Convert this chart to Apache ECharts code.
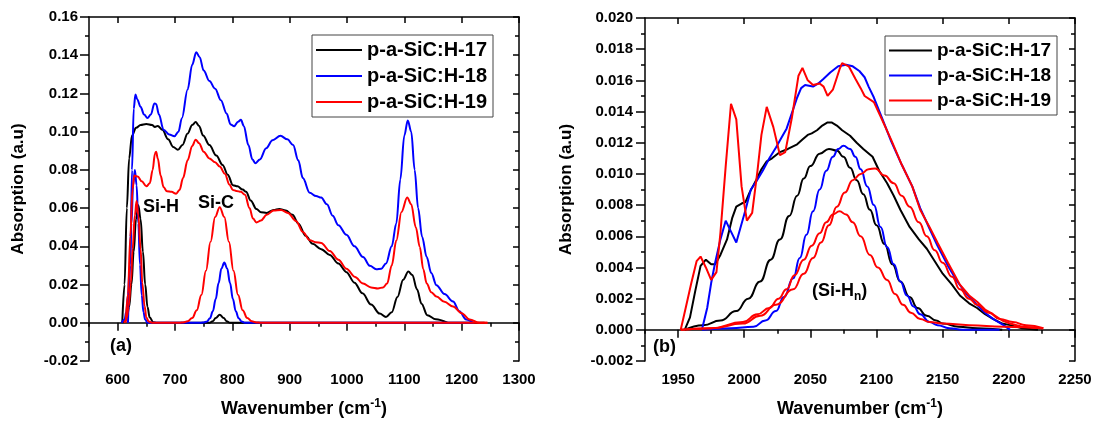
<!DOCTYPE html>
<html>
<head>
<meta charset="utf-8">
<script src="https://cdn.jsdelivr.net/npm/echarts@6/dist/echarts.min.js"></script>
<style>
  html, body { margin: 0; padding: 0; background: #fff; }
  #chart { width: 1101px; height: 425px; }
</style>
</head>
<body>
<div id="chart"></div>
<script>
// ---------- Panel (a): 550–1300 cm-1 ----------
const xMajorA = [600, 700, 800, 900, 1000, 1100, 1200, 1300];
const xMinorA = [550, 650, 750, 850, 950, 1050, 1150, 1250];

const specA17 = [[608,0],[612,0.02],[616,0.06],[620,0.086],[625,0.098],[632,0.102],[640,0.1035],[650,0.104],[660,0.1035],[665,0.1025],[670,0.103],[678,0.101],[688,0.096],[697,0.092],[705,0.0905],[713,0.093],[722,0.099],[730,0.1035],[736,0.105],[742,0.103],[749,0.098],[760,0.093],[772,0.0875],[783,0.0826],[792,0.0775],[801,0.072],[809,0.0714],[818,0.0697],[824,0.0685],[832,0.064],[842,0.0595],[850,0.0578],[860,0.0575],[872,0.059],[882,0.0596],[893,0.0588],[905,0.0565],[915,0.052],[928,0.0455],[940,0.0413],[955,0.0385],[970,0.0355],[985,0.031],[999,0.0265],[1013,0.021],[1027,0.0154],[1042,0.0095],[1057,0.0048],[1068,0.003],[1078,0.0055],[1088,0.0135],[1098,0.0225],[1107,0.0268],[1114,0.025],[1122,0.0175],[1130,0.01],[1140,0.004],[1155,0.0018],[1175,0]];

const specA18 = [[618,0],[622,0.03],[625,0.08],[628,0.112],[631,0.1195],[634,0.117],[640,0.113],[646,0.109],[652,0.1072],[658,0.109],[664,0.1148],[667,0.1145],[672,0.109],[680,0.101],[690,0.0985],[699,0.0976],[706,0.1],[712,0.107],[722,0.122],[730,0.135],[737,0.1416],[743,0.139],[750,0.132],[760,0.1265],[770,0.1225],[780,0.1165],[790,0.1095],[797,0.1038],[803,0.1028],[810,0.1052],[815,0.1062],[820,0.103],[828,0.093],[835,0.0855],[840,0.0835],[848,0.0855],[859,0.0913],[870,0.0955],[884,0.0978],[896,0.096],[906,0.093],[915,0.085],[923,0.0757],[935,0.068],[946,0.0663],[955,0.0655],[965,0.062],[975,0.056],[985,0.051],[999,0.046],[1013,0.04],[1028,0.0344],[1040,0.0298],[1051,0.028],[1060,0.0283],[1068,0.031],[1078,0.04],[1086,0.052],[1093,0.075],[1100,0.098],[1106,0.1059],[1112,0.1],[1118,0.08],[1124,0.06],[1131,0.045],[1139,0.0344],[1147,0.026],[1156,0.0197],[1170,0.015],[1185,0.0111],[1196,0.006],[1208,0.0017],[1220,0]];

const specA19 = [[614,0],[618,0.015],[622,0.045],[626,0.07],[629,0.077],[635,0.0765],[642,0.074],[650,0.0714],[656,0.073],[661,0.08],[665,0.0885],[667,0.0895],[670,0.086],[675,0.077],[680,0.071],[686,0.0688],[694,0.0685],[702,0.0675],[708,0.0695],[714,0.0757],[722,0.085],[730,0.0925],[736,0.0958],[742,0.094],[750,0.0895],[760,0.086],[770,0.084],[778,0.0818],[787,0.078],[795,0.0723],[801,0.0695],[807,0.069],[815,0.0685],[822,0.067],[830,0.06],[836,0.0545],[842,0.0525],[850,0.0535],[860,0.0565],[872,0.0588],[885,0.059],[897,0.0575],[911,0.0533],[923,0.0475],[935,0.0432],[945,0.0422],[955,0.0418],[970,0.0375],[985,0.033],[999,0.0283],[1014,0.024],[1028,0.0205],[1042,0.0185],[1054,0.018],[1063,0.0185],[1070,0.0205],[1078,0.03],[1086,0.043],[1095,0.058],[1105,0.0655],[1112,0.062],[1120,0.05],[1127,0.0396],[1133,0.028],[1139,0.0206],[1147,0.016],[1156,0.0137],[1170,0.011],[1185,0.0085],[1200,0.005],[1214,0.0017],[1231,0],[1245,0]];

// fitted Si-H and Si-C bands
const fitA17 = [[608,0],[612,0.0007],[616,0.0027],[620,0.0083],[624,0.02],[628,0.0373],[632,0.0542],[636,0.0615],[640,0.0542],[644,0.0373],[648,0.02],[652,0.0083],[656,0.0027],[662,0.0003],[668,0],[760,0],[766,0.0008],[771,0.0025],[778,0.0042],[785,0.0025],[790,0.0008],[796,0],[1240,0]];
const fitA18 = [[607,0],[612,0.0017],[615,0.0056],[618,0.0144],[621,0.0304],[624,0.052],[627,0.072],[630,0.08],[633,0.072],[636,0.052],[639,0.0304],[642,0.0144],[645,0.0056],[648,0.0017],[652,0],[745,0],[750,0.0002],[756,0.0007],[761,0.0024],[766,0.006],[771,0.0124],[776,0.0208],[781,0.0284],[786,0.0315],[791,0.0284],[796,0.0208],[801,0.0124],[806,0.006],[811,0.0024],[816,0.0007],[822,0],[1222,0]];
const fitA19 = [[611,0],[614,0.0012],[616,0.0028],[619,0.0086],[623,0.0207],[626,0.0387],[630,0.0562],[633,0.0637],[636,0.0562],[640,0.0387],[643,0.0207],[647,0.0086],[650,0.0028],[654,0.0007],[660,0],[708,0],[714,0.0002],[722,0.0008],[730,0.0025],[738,0.0066],[746,0.0146],[754,0.0272],[762,0.0424],[770,0.0554],[778,0.0605],[786,0.0554],[794,0.0424],[802,0.0272],[810,0.0146],[818,0.0066],[826,0.0025],[834,0.0008],[842,0.0002],[850,0],[1245,0]];

// ---------- Panel (b): 1925–2250 cm-1 ----------
const xMajorB = [1950, 2000, 2050, 2100, 2150, 2200, 2250];
const xMinorB = [1925, 1975, 2025, 2075, 2125, 2175, 2225];

const specB17 = [[1955,0],[1959,0.0008],[1963,0.0025],[1967,0.0041],[1971,0.0045],[1975,0.0042],[1978,0.0042],[1982,0.0048],[1987,0.0058],[1991,0.0072],[1994,0.0079],[1998,0.0081],[2001,0.0082],[2004,0.0088],[2009,0.0096],[2013,0.0103],[2017,0.0108],[2021,0.011],[2027,0.0114],[2033,0.0116],[2040,0.0119],[2044,0.0122],[2048,0.0125],[2051,0.0126],[2055,0.0128],[2059,0.0131],[2063,0.0133],[2066,0.0133],[2070,0.0131],[2074,0.0128],[2080,0.01245],[2085,0.012],[2090,0.0116],[2097,0.0111],[2102,0.0102],[2108,0.0094],[2113,0.0086],[2118,0.0077],[2125,0.0066],[2132,0.0058],[2138,0.0052],[2144,0.0044],[2150,0.0036],[2157,0.0029],[2163,0.0022],[2170,0.0017],[2176,0.0014],[2182,0.001],[2188,0.0007],[2195,0.0004],[2201,0.0003],[2210,0.0001],[2222,0]];

const specB18 = [[1968,0],[1972,0.0014],[1975,0.003],[1978,0.0043],[1982,0.0058],[1986,0.007],[1990,0.0063],[1994,0.0056],[1998,0.0068],[2001,0.0077],[2005,0.009],[2009,0.0095],[2014,0.0102],[2019,0.011],[2024,0.0117],[2028,0.0123],[2032,0.0129],[2036,0.0139],[2040,0.0149],[2043,0.0155],[2046,0.0157],[2052,0.0156],[2056,0.0158],[2060,0.0161],[2065,0.0165],[2071,0.0169],[2077,0.017],[2082,0.0169],[2087,0.0166],[2091,0.0162],[2094,0.0156],[2098,0.0149],[2105,0.0134],[2111,0.0121],[2119,0.0106],[2127,0.0092],[2133,0.0078],[2140,0.0065],[2146,0.0054],[2154,0.0041],[2161,0.0031],[2168,0.0023],[2176,0.0016],[2182,0.0011],[2188,0.0007],[2196,0.0003],[2201,0]];

const specB19 = [[1952,0],[1956,0.0015],[1960,0.003],[1964,0.0044],[1967,0.0047],[1971,0.004],[1975,0.0032],[1979,0.0037],[1982,0.0062],[1986,0.0105],[1990,0.0145],[1994,0.0135],[1998,0.0092],[2002,0.007],[2006,0.0075],[2010,0.0102],[2013,0.0125],[2017,0.0143],[2022,0.013],[2027,0.0112],[2031,0.0114],[2036,0.0136],[2041,0.0163],[2044,0.0168],[2048,0.016],[2052,0.0157],[2057,0.0158],[2060,0.0156],[2063,0.015],[2067,0.0154],[2072,0.0167],[2074,0.0171],[2079,0.0169],[2084,0.0161],[2088,0.0155],[2091,0.015],[2098,0.0146],[2103,0.0137],[2111,0.0122],[2119,0.0106],[2127,0.0092],[2133,0.0077],[2140,0.0066],[2146,0.0056],[2154,0.0043],[2163,0.0029],[2170,0.0022],[2176,0.0018],[2182,0.0013],[2188,0.001],[2195,0.0006],[2201,0.0004],[2210,0.0002],[2226,0.0001]];

// fitted Si-Hn bands
const fitB17 = [[1955,0],[1969,0.0003],[1982,0.0006],[1994,0.0012],[2003,0.002],[2012,0.0031],[2020,0.0045],[2027,0.0058],[2034,0.0073],[2040,0.0086],[2045,0.0097],[2050,0.0105],[2057,0.0113],[2064,0.0116],[2070,0.0115],[2075,0.0111],[2080,0.0104],[2085,0.0096],[2090,0.0087],[2095,0.0077],[2100,0.0067],[2106,0.0055],[2112,0.0042],[2118,0.0031],[2125,0.0021],[2131,0.0014],[2138,0.0009],[2145,0.0006],[2150,0.0004],[2162,0.0002],[2176,0.0001],[2195,0]];
const fitB18 = [[1968,0],[1990,0.0001],[2007,0.0002],[2016,0.0006],[2024,0.0012],[2030,0.0021],[2037,0.0033],[2042,0.0046],[2047,0.0061],[2052,0.0076],[2057,0.009],[2062,0.0102],[2067,0.0111],[2071,0.0116],[2075,0.0118],[2080,0.0116],[2084,0.0111],[2088,0.0103],[2093,0.0092],[2098,0.008],[2103,0.0066],[2108,0.0053],[2113,0.0042],[2118,0.0031],[2123,0.0022],[2128,0.0015],[2133,0.001],[2140,0.0005],[2146,0.0003],[2155,0.0001],[2165,0],[2193,0]];
const fitB19a = [[1952,0],[1975,0.0001],[1999,0.0005],[2010,0.001],[2019,0.0014],[2026,0.002],[2032,0.0026],[2038,0.0035],[2045,0.0045],[2051,0.0054],[2057,0.0062],[2062,0.0069],[2067,0.0074],[2072,0.0076],[2077,0.0074],[2082,0.0069],[2088,0.006],[2095,0.0048],[2101,0.004],[2108,0.0032],[2114,0.0023],[2120,0.0016],[2126,0.0011],[2133,0.0007],[2140,0.0005],[2150,0.0004],[2170,0.0003],[2196,0.0002],[2226,0.0001]];
const fitB19b = [[1952,0],[1975,0.0001],[1999,0.0004],[2012,0.0009],[2024,0.0016],[2037,0.0026],[2045,0.0036],[2052,0.0046],[2058,0.0056],[2064,0.0067],[2070,0.0079],[2076,0.0088],[2082,0.0096],[2088,0.01],[2094,0.0103],[2099,0.01035],[2106,0.0099],[2113,0.0094],[2119,0.0086],[2125,0.0079],[2132,0.0069],[2138,0.006],[2144,0.0051],[2150,0.0043],[2157,0.0034],[2163,0.0026],[2170,0.002],[2176,0.0016],[2185,0.0011],[2193,0.0007],[2203,0.0005],[2213,0.0003],[2226,0.0001]];

const sampleNames = ['p-a-SiC:H-17', 'p-a-SiC:H-18', 'p-a-SiC:H-19'];
const sampleColors = ['#000000', '#0000ff', '#ff0000'];

const FONT = '"Liberation Sans", Arial, Helvetica, sans-serif';
const AXIS_COLOR = '#000';

function tickLabel(digits, margin) {
  return { fontFamily: FONT, fontWeight: 'bold', fontSize: 15, color: '#000', margin: margin,
           formatter: v => v.toFixed(digits) };
}
const wavenumberName = 'Wavenumber (cm{sup|-1})';
const xNameStyle = {
  fontFamily: FONT, fontWeight: 'bold', fontSize: 18, color: '#000', lineHeight: 22,
  rich: { sup: { fontFamily: FONT, fontWeight: 'bold', fontSize: 12, color: '#000', verticalAlign: 'top', lineHeight: 22 } }
};
const yNameStyle = { fontFamily: FONT, fontWeight: 'bold', fontSize: 17, color: '#000' };

function xAxes(grid, min, max, majors, minors) {
  const line = { lineStyle: { color: AXIS_COLOR, width: 1.5 } };
  return [
    { gridIndex: grid, type: 'value', min, max, position: 'bottom',
      axisLine: line,
      axisTick: { customValues: majors, length: 8, lineStyle: { color: AXIS_COLOR, width: 1.5 } },
      axisLabel: Object.assign({ customValues: majors }, tickLabel(0, 11), { formatter: v => String(v) }),
      splitLine: { show: false },
      name: wavenumberName, nameLocation: 'middle', nameGap: 37, nameTextStyle: xNameStyle },
    { gridIndex: grid, type: 'value', min, max, position: 'bottom',
      axisLine: { show: false },
      axisTick: { customValues: minors, length: 4, lineStyle: { color: AXIS_COLOR, width: 1.5 } },
      axisLabel: { show: false }, splitLine: { show: false } },
    { gridIndex: grid, type: 'value', min, max, position: 'top',
      axisLine: line,
      axisTick: { customValues: majors, inside: true, length: 6, lineStyle: { color: AXIS_COLOR, width: 1.5 } },
      axisLabel: { show: false }, splitLine: { show: false } }
  ];
}
function yAxes(grid, min, max, interval, digits, gap, labelMargin) {
  const line = { lineStyle: { color: AXIS_COLOR, width: 1.5 } };
  return [
    { gridIndex: grid, type: 'value', min, max, interval, position: 'left',
      axisLine: line,
      axisTick: { length: 9, lineStyle: { color: AXIS_COLOR, width: 1.5 } },
      minorTick: { show: true, splitNumber: 2, length: 4, lineStyle: { color: AXIS_COLOR, width: 1.5 } },
      axisLabel: tickLabel(digits, labelMargin),
      splitLine: { show: false }, minorSplitLine: { show: false },
      name: 'Absorption (a.u)', nameLocation: 'middle', nameRotate: 90, nameGap: gap, nameTextStyle: yNameStyle },
    { gridIndex: grid, type: 'value', min, max, interval, position: 'right',
      axisLine: line,
      axisTick: { inside: true, length: 6, lineStyle: { color: AXIS_COLOR, width: 1.5 } },
      minorTick: { show: true, splitNumber: 2, length: 4, lineStyle: { color: AXIS_COLOR, width: 1.5 } },
      axisLabel: { show: false }, splitLine: { show: false } }
  ];
}

function curve(name, color, data, xi, yi, smooth) {
  return {
    name, type: 'line', data, xAxisIndex: xi, yAxisIndex: yi,
    symbol: 'none', showSymbol: false, smooth: smooth, smoothMonotone: 'x',
    color: color, itemStyle: { color: color },
    lineStyle: { color: color, width: 2 }, silent: true
  };
}

const series = [
  // panel (a)
  curve(sampleNames[0], sampleColors[0], specA17, 0, 0, 0.35),
  curve(sampleNames[0] + ' fit', sampleColors[0], fitA17, 0, 0, 0.4),
  curve(sampleNames[1], sampleColors[1], specA18, 0, 0, 0.35),
  curve(sampleNames[1] + ' fit', sampleColors[1], fitA18, 0, 0, 0.4),
  curve(sampleNames[2], sampleColors[2], specA19, 0, 0, 0.35),
  curve(sampleNames[2] + ' fit', sampleColors[2], fitA19, 0, 0, 0.4),
  // panel (b)
  curve(sampleNames[0], sampleColors[0], specB17, 3, 2, false),
  curve(sampleNames[0] + ' fit', sampleColors[0], fitB17, 3, 2, 0.5),
  curve(sampleNames[1], sampleColors[1], specB18, 3, 2, false),
  curve(sampleNames[1] + ' fit', sampleColors[1], fitB18, 3, 2, 0.5),
  curve(sampleNames[2], sampleColors[2], specB19, 3, 2, false),
  curve(sampleNames[2] + ' fit 1', sampleColors[2], fitB19a, 3, 2, 0.5),
  curve(sampleNames[2] + ' fit 2', sampleColors[2], fitB19b, 3, 2, 0.5)
];

function legendBox(left, top, lineLen, fontSize, lineHeight) {
  return {
    data: sampleNames, left, top, orient: 'vertical', icon: 'rect',
    itemWidth: lineLen, itemHeight: 2, itemGap: 4, padding: [4, 6, 4, 4],
    borderColor: '#444', borderWidth: 1, selectedMode: false,
    textStyle: { fontFamily: FONT, fontWeight: 'bold', fontSize, lineHeight, color: '#000' }
  };
}

function note(x, y, text, size) {
  return {
    type: 'text', x, y, silent: true,
    style: {
      text, fill: '#000', font: 'bold ' + size + 'px ' + FONT, verticalAlign: 'middle',
      rich: { sub: { fontFamily: FONT, fontWeight: 'bold', fontSize: 12, fill: '#000', verticalAlign: 'bottom', lineHeight: 24 },
              base: { fontFamily: FONT, fontWeight: 'bold', fontSize: size, fill: '#000', lineHeight: 24 } }
    }
  };
}

const option = {
  animation: false,
  backgroundColor: '#fff',
  grid: [
    { left: 89, top: 17, width: 430, height: 348 },
    { left: 645, top: 18, width: 430, height: 348 }
  ],
  xAxis: [].concat(xAxes(0, 550, 1300, xMajorA, xMinorA), xAxes(1, 1925, 2250, xMajorB, xMinorB)),
  yAxis: [].concat(yAxes(0, -0.02, 0.16, 0.02, 2, 62, 11), yAxes(1, -0.002, 0.020, 0.002, 3, 70, 12)),
  legend: [legendBox(312, 35, 46, 20, 22), legendBox(885, 36, 43, 19, 21)],
  graphic: [
    note(143, 207, 'Si-H', 18),
    note(198, 203, 'Si-C', 18),
    note(110, 346, '(a)', 18),
    note(653, 347, '(b)', 18),
    note(812, 291, '{base|(Si-H}{sub|n}{base|)}', 18)
  ],
  series
};

const chart = echarts.init(document.getElementById('chart'), null, { renderer: 'canvas' });
chart.setOption(option);
</script>
</body>
</html>
